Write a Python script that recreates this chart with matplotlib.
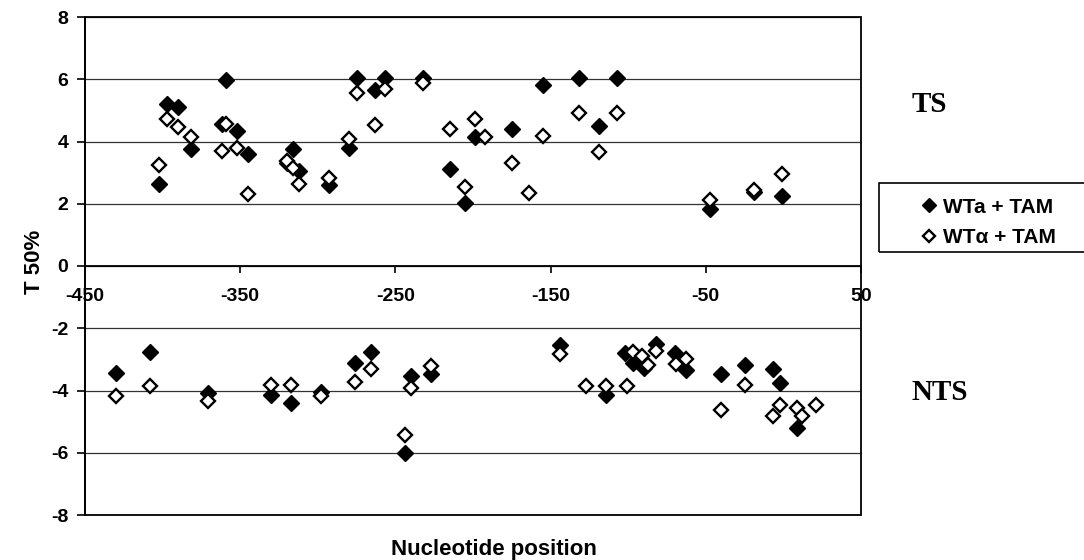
import matplotlib.pyplot as plt
from matplotlib.patches import Rectangle

# TS strand
ts_wta_x = [-402, -397, -390, -382, -362, -359, -352, -345, -320, -316, -312, -293, -280, -275,
            -263, -257, -232, -215, -205, -199, -175, -155, -132, -119, -107, -47, -19, -1]
ts_wta_y = [2.65, 5.2, 5.1, 3.77, 4.55, 5.98, 4.33, 3.61, 3.3, 3.77, 3.05, 2.6, 3.8, 6.03,
            5.66, 6.05, 6.05, 3.11, 2.02, 4.15, 4.39, 5.82, 6.03, 4.5, 6.03, 1.83, 2.38, 2.24]
ts_wtal_x = [-402, -397, -390, -382, -362, -359, -352, -345, -320, -316, -312, -293, -280, -275,
             -263, -257, -232, -215, -205, -199, -192, -175, -164, -155, -132, -119, -107, -47, -19, -1]
ts_wtal_y = [3.26, 4.72, 4.47, 4.13, 3.7, 4.55, 3.8, 2.32, 3.37, 3.15, 2.65, 2.84, 4.07, 5.55,
             4.53, 5.68, 5.87, 4.39, 2.54, 4.71, 4.15, 3.31, 2.34, 4.18, 4.93, 3.65, 4.93, 2.11, 2.43, 2.97]

# NTS strand
nts_wta_x = [-430, -408, -371, -330, -317, -298, -276, -266, -244, -240, -227, -144,
             -114, -102, -97, -90, -82, -70, -63, -40, -25, -6.5, -2, 9]
nts_wta_y = [-3.45, -2.76, -4.07, -4.16, -4.4, -4.05, -3.12, -2.76, -6.0, -3.52, -3.46, -2.55,
             -4.15, -2.81, -3.12, -3.27, -2.52, -2.81, -3.35, -3.48, -3.19, -3.32, -3.75, -5.2]
nts_wtal_x = [-430, -408, -371, -330, -317, -298, -276, -266, -244, -240, -227, -144, -127,
              -114, -101, -97, -91, -87, -82, -69, -63, -40, -25, -7, -2, 9, 12, 21]
nts_wtal_y = [-4.18, -3.86, -4.34, -3.83, -3.83, -4.18, -3.73, -3.32, -5.42, -3.91, -3.22, -2.84, -3.84,
              -3.85, -3.87, -2.75, -2.89, -3.19, -2.73, -3.16, -2.98, -4.63, -3.81, -4.83, -4.45, -4.56, -4.83, -4.48]

x_ticks = [-450, -350, -250, -150, -50, 50]
y_ticks = [8, 6, 4, 2, 0, -2, -4, -6, -8]

plt.rcParams['font.family'] = 'Liberation Sans'
plt.rcParams['font.weight'] = 'bold'
plt.rcParams['axes.unicode_minus'] = False

fig = plt.figure(figsize=(10.84, 5.6), dpi=100)
ax = fig.add_axes([85 / 1084, 45 / 560, 776 / 1084, 498 / 560])

filled = dict(marker='D', ms=7.8, mfc='black', mec='black', mew=1, ls='none')
hollow = dict(marker='D', ms=6.8, mfc='white', mec='black', mew=1.7, ls='none')

h1, = ax.plot(ts_wta_x + nts_wta_x, ts_wta_y + nts_wta_y, zorder=3, **filled)
h2, = ax.plot(ts_wtal_x + nts_wtal_x, ts_wtal_y + nts_wtal_y, zorder=4, **hollow)

ax.set_xlim(-450, 50)
ax.set_ylim(-8, 8)
ax.set_xticks(x_ticks)
ax.set_yticks(y_ticks)
ax.yaxis.grid(True, color='#333333', lw=0.9)
ax.set_axisbelow(True)

for s in ['top', 'right']:
    ax.spines[s].set_visible(False)
ax.spines['bottom'].set_position(('data', 0))
ax.spines['bottom'].set_linewidth(1.3)
ax.spines['left'].set_linewidth(1.3)
ax.add_patch(Rectangle((0, 0), 1, 1, transform=ax.transAxes, fill=False,
                       lw=1.3, ec='black', clip_on=False, zorder=5))

ax.tick_params(axis='y', direction='out', length=6, width=1.2, labelsize=14, pad=6)
ax.tick_params(axis='x', direction='out', length=5, width=1.2, labelsize=14, pad=11)

fig.text(34 / 1084, 1 - 262 / 560, 'T 50%', rotation=90, ha='center', va='center',
         fontsize=16, fontweight='bold')
fig.text(494 / 1084, 1 - 549 / 560, 'Nucleotide position', ha='center', va='center',
         fontsize=16, fontweight='bold')

fig.text(912 / 1084, 1 - 105 / 560, 'TS', ha='left', va='center', fontsize=21,
         fontweight='bold', family='Liberation Serif')
fig.text(912 / 1084, 1 - 392 / 560, 'NTS', ha='left', va='center', fontsize=21,
         fontweight='bold', family='Liberation Serif')

# legend box runs off the right edge
fig.patches.append(Rectangle((879 / 1084, 1 - 252 / 560), 0.3, 69 / 560, transform=fig.transFigure,
                             fill=False, lw=1.2, ec='black'))
fig.legend([h1, h2], ['WTa + TAM', 'WT\u03b1 + TAM'], loc='upper left',
           bbox_to_anchor=(906 / 1084, 1 - 183 / 560), frameon=False, fontsize=15,
           handlelength=0.8, handletextpad=0.3, labelspacing=0.55, borderpad=0.2,
           markerscale=0.9)

fig.savefig('out.png', dpi=100)
